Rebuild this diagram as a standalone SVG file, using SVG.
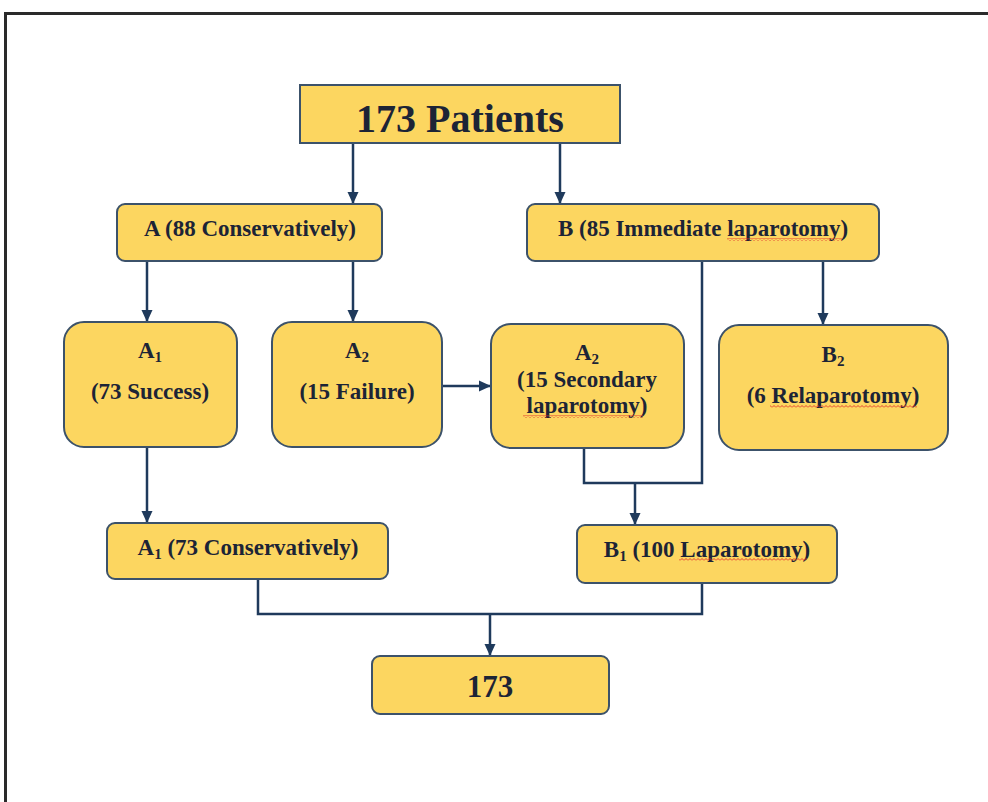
<svg xmlns="http://www.w3.org/2000/svg" width="988" height="802" viewBox="0 0 988 802">
<defs>
<marker id="ah" markerUnits="userSpaceOnUse" markerWidth="12" markerHeight="12" viewBox="0 0 12 12" refX="11" refY="6" orient="auto">
<path d="M0 0.5 L12 6 L0 11.5 Z" fill="#1f3a5c"/>
</marker>
<pattern id="wavy" patternUnits="userSpaceOnUse" width="4" height="3">
<polyline points="0,2.5 2,0.5 4,2.5" fill="none" stroke="#e0302a" stroke-width="0.9"/>
</pattern>
<style>
.box{fill:#fcd660;stroke:#3c526a;stroke-width:2}
.t{font-family:"Liberation Serif","Times New Roman",serif;font-weight:bold;fill:#1c2436;text-anchor:middle;font-size:23px}
.c{fill:none;stroke:#1f3a5c;stroke-width:2.5}
.sub{font-size:15px}
</style>
</defs>
<rect x="0" y="0" width="988" height="802" fill="#ffffff"/>
<rect x="5.5" y="13.5" width="1000" height="900" fill="none" stroke="#2a2a2a" stroke-width="3"/>

<g id="connectors">
<path class="c" d="M353 143 V203" marker-end="url(#ah)"/>
<path class="c" d="M560 143 V203" marker-end="url(#ah)"/>
<path class="c" d="M147 261 V321" marker-end="url(#ah)"/>
<path class="c" d="M353 261 V321" marker-end="url(#ah)"/>
<path class="c" d="M442 386 H490" marker-end="url(#ah)"/>
<path class="c" d="M823 261 V324" marker-end="url(#ah)"/>
<path class="c" d="M584 448 V483 H702 V261"/>
<path class="c" d="M635 483 V524" marker-end="url(#ah)"/>
<path class="c" d="M147 447 V522" marker-end="url(#ah)"/>
<path class="c" d="M258 579 V614 H702 V583"/>
<path class="c" d="M490 614 V655" marker-end="url(#ah)"/>
</g>

<g id="n-top">
<rect class="box" x="300" y="85" width="320" height="58"/>
<text class="t" x="460" y="132" style="font-size:40px">173 Patients</text>
</g>

<g id="n-A">
<rect class="box" x="117" y="204" width="265" height="57" rx="8"/>
<text class="t" x="250" y="236">A (88 Conservatively)</text>
</g>

<g id="n-B">
<rect class="box" x="527" y="204" width="352" height="57" rx="8"/>
<text class="t" x="703" y="236">B (85 Immediate laparotomy)</text>
<rect x="727" y="238" width="115" height="3" fill="url(#wavy)"/>
</g>

<g id="n-A1">
<rect class="box" x="64" y="322" width="173" height="125" rx="20"/>
<text class="t" x="150" y="358">A<tspan class="sub" dy="4">1</tspan></text>
<text class="t" x="150" y="399">(73 Success)</text>
</g>

<g id="n-A2">
<rect class="box" x="272" y="322" width="170" height="125" rx="20"/>
<text class="t" x="357" y="358">A<tspan class="sub" dy="4">2</tspan></text>
<text class="t" x="357" y="399">(15 Failure)</text>
</g>

<g id="n-A2s">
<rect class="box" x="491" y="324" width="193" height="124" rx="20"/>
<text class="t" x="587" y="360">A<tspan class="sub" dy="4">2</tspan></text>
<text class="t" x="587" y="387">(15 Secondary</text>
<text class="t" x="587" y="413">laparotomy)</text>
<rect x="523" y="415" width="120" height="3" fill="url(#wavy)"/>
</g>

<g id="n-B2">
<rect class="box" x="719" y="325" width="229" height="125" rx="20"/>
<text class="t" x="833" y="362">B<tspan class="sub" dy="4">2</tspan></text>
<text class="t" x="833" y="403">(6 Relaparotomy)</text>
<rect x="770" y="405" width="147" height="3" fill="url(#wavy)"/>
</g>

<g id="n-A1c">
<rect class="box" x="107" y="523" width="281" height="56" rx="8"/>
<text class="t" x="248" y="555">A<tspan class="sub" dy="4">1</tspan><tspan dy="-4"> (73 Conservatively)</tspan></text>
</g>

<g id="n-B1">
<rect class="box" x="577" y="525" width="260" height="58" rx="8"/>
<text class="t" x="707" y="557">B<tspan class="sub" dy="4">1</tspan><tspan dy="-4"> (100 Laparotomy)</tspan></text>
<rect x="679" y="558" width="128" height="3" fill="url(#wavy)"/>
</g>

<g id="n-total">
<rect class="box" x="372" y="656" width="237" height="58" rx="8"/>
<text class="t" x="490" y="697" style="font-size:31px">173</text>
</g>
</svg>
